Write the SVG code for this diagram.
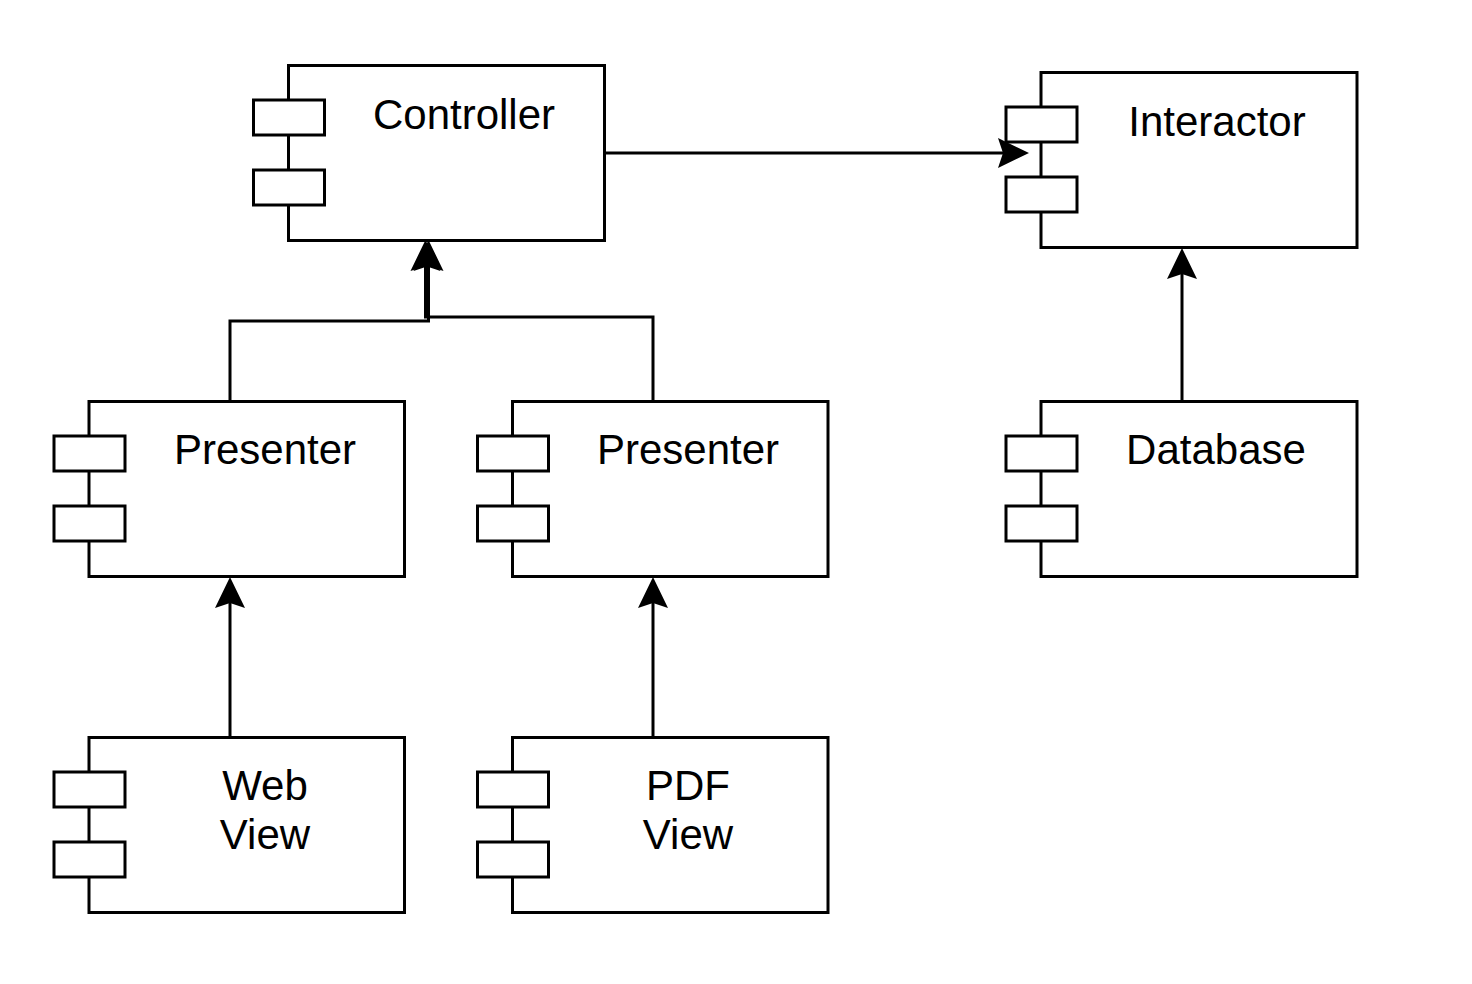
<svg xmlns="http://www.w3.org/2000/svg" width="1472" height="984" viewBox="0 0 1472 984">
<style>
.body{fill:#fff;stroke:#000;stroke-width:3}
.port{fill:#fff;stroke:#000;stroke-width:3}
.lbl{font-family:"Liberation Sans",Arial,sans-serif;font-size:42px;fill:#000;text-anchor:middle}
.edge{fill:none;stroke:#000;stroke-width:3}
</style>
<defs>
<marker id="arr" markerUnits="userSpaceOnUse" markerWidth="40" markerHeight="40" refX="0" refY="0" orient="auto" overflow="visible" viewBox="-10 -20 40 40">
<path d="M26,0 L-5,-15 L0,0 L-5,15 Z" fill="#000" stroke="none"/>
</marker>
</defs>
<rect width="1472" height="984" fill="#fff"/>
<g id="connectors">
<path class="edge" d="M604,153 L1003,153" marker-end="url(#arr)"/>
<path class="edge" d="M230,401 L230,321 L428.5,321 L428.5,266" marker-end="url(#arr)"/>
<path class="edge" d="M653,401 L653,317 L425.5,317 L425.5,266" marker-end="url(#arr)"/>
<path class="edge" d="M1182,401 L1182,274" marker-end="url(#arr)"/>
<path class="edge" d="M230,737 L230,603" marker-end="url(#arr)"/>
<path class="edge" d="M653,737 L653,603" marker-end="url(#arr)"/>
</g>
<g id="controller">
<rect class="body" x="288.5" y="65.5" width="316" height="175"/>
<rect class="port" x="253.5" y="100" width="71" height="35"/>
<rect class="port" x="253.5" y="170" width="71" height="35"/>
<text class="lbl" x="464" y="129">Controller</text>
</g>
<g id="interactor">
<rect class="body" x="1041" y="72.5" width="316" height="175"/>
<rect class="port" x="1006" y="107" width="71" height="35"/>
<rect class="port" x="1006" y="177" width="71" height="35"/>
<text class="lbl" x="1217" y="136">Interactor</text>
</g>
<g id="presenter1">
<rect class="body" x="89" y="401.5" width="315.5" height="175"/>
<rect class="port" x="54" y="436" width="71" height="35"/>
<rect class="port" x="54" y="506" width="71" height="35"/>
<text class="lbl" x="265" y="464">Presenter</text>
</g>
<g id="presenter2">
<rect class="body" x="512.5" y="401.5" width="315.5" height="175"/>
<rect class="port" x="477.5" y="436" width="71" height="35"/>
<rect class="port" x="477.5" y="506" width="71" height="35"/>
<text class="lbl" x="688" y="464">Presenter</text>
</g>
<g id="database">
<rect class="body" x="1041" y="401.5" width="316" height="175"/>
<rect class="port" x="1006" y="436" width="71" height="35"/>
<rect class="port" x="1006" y="506" width="71" height="35"/>
<text class="lbl" x="1216" y="464">Database</text>
</g>
<g id="webview">
<rect class="body" x="89" y="737.5" width="315.5" height="175"/>
<rect class="port" x="54" y="772" width="71" height="35"/>
<rect class="port" x="54" y="842" width="71" height="35"/>
<text class="lbl" x="265" y="800">Web</text>
<text class="lbl" x="265" y="849">View</text>
</g>
<g id="pdfview">
<rect class="body" x="512.5" y="737.5" width="315.5" height="175"/>
<rect class="port" x="477.5" y="772" width="71" height="35"/>
<rect class="port" x="477.5" y="842" width="71" height="35"/>
<text class="lbl" x="688" y="800">PDF</text>
<text class="lbl" x="688" y="849">View</text>
</g>
</svg>
